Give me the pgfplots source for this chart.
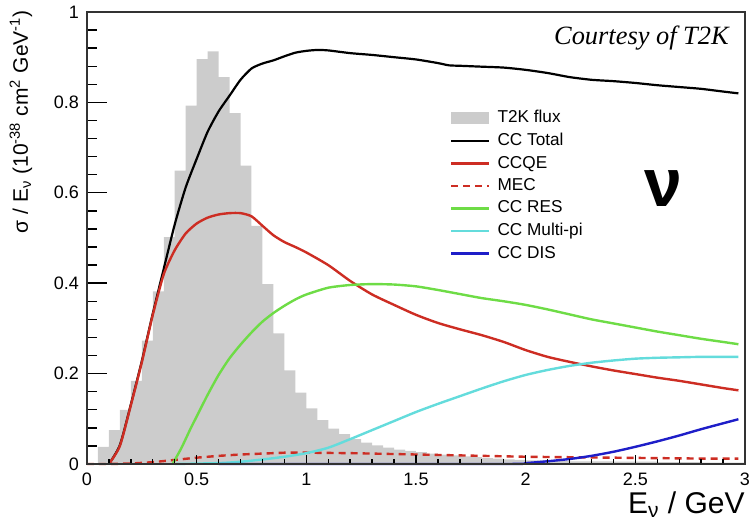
\documentclass[border=0pt]{standalone}
\usepackage{fontspec}
\setmainfont{Liberation Sans}
\newfontfamily\serifit{Liberation Serif}
\usepackage{pgfplots}
\pgfplotsset{compat=1.18}

\definecolor{histgray}{RGB}{204,204,204}
\definecolor{ccqe}{RGB}{205,45,35}
\definecolor{ccres}{RGB}{110,220,70}
\definecolor{ccmpi}{RGB}{100,220,220}
\definecolor{ccdis}{RGB}{30,30,200}

\pgfplotsset{
  common/.style={
    scale only axis, width=329pt, height=226pt,
    xmin=0, xmax=3, ymin=0, ymax=1,
    axis line style={black!80, line width=0.8pt},
    every tick/.style={black, line width=0.7pt},
    tick align=inside,
    xtick pos=left, ytick pos=left,
    /pgf/number format/assume math mode=true,
    ticklabel style={font=\fontsize{9}{10}\selectfont},
  },
  lineleg/.style={legend image code/.code={\draw[##1] (0pt,0pt) -- (19pt,0pt);}},
}

\begin{document}
\begin{tikzpicture}
\path[use as bounding box] (-43.5pt,-27.5pt) rectangle (332pt,232pt);

% main axis: data, x ticks, legend
\begin{axis}[common,
    axis on top,
    clip=false,
    xtick={0,0.5,1,1.5,2,2.5,3},
    minor x tick num=4,
    ytick=\empty,
    major tick length=4.5pt, minor tick length=2.5pt,
    xticklabel style={inner sep=1pt, yshift=-3.5pt},
    xlabel={E\textsubscript{ν} / GeV},
    xlabel style={at={(axis description cs:1,-0.109)}, anchor=base east,
      inner sep=0pt, text height=0.72em, text depth=0.2em,
      font=\fontsize{15}{17}\selectfont},
    legend style={at={(axis description cs:0.551,0.786)}, anchor=north west,
      draw=none, fill=none, inner sep=0pt,
      font=\fontsize{8.6}{10}\selectfont, row sep=2.5pt, column sep=3pt,
      nodes={inner sep=0.6pt, anchor=west}},
    legend cell align=left,
  ]

  \addplot[ybar interval, fill=histgray, draw=none,
    legend image code/.code={\fill[histgray] (0pt,-3pt) rectangle (19pt,3pt);}]
  coordinates {
    (0.05,0.038) (0.10,0.075) (0.15,0.120) (0.20,0.184) (0.25,0.273)
    (0.30,0.382) (0.35,0.502) (0.40,0.649) (0.45,0.793) (0.50,0.896)
    (0.55,0.913) (0.60,0.856) (0.65,0.776) (0.70,0.660) (0.75,0.527)
    (0.80,0.398) (0.85,0.289) (0.90,0.207) (0.95,0.158) (1.00,0.123)
    (1.05,0.097) (1.10,0.078) (1.15,0.066) (1.20,0.055) (1.25,0.047)
    (1.30,0.041) (1.35,0.036) (1.40,0.032) (1.45,0.029) (1.50,0.026)
    (1.55,0.023) (1.60,0.021) (1.65,0.019) (1.70,0.017) (1.75,0.015)
    (1.80,0.013) (1.85,0.012) (1.90,0.010) (1.95,0.009) (2.00,0.008)
    (2.10,0.007) (2.20,0.006) (2.40,0.005) (2.60,0.004) (2.80,0.003)
    (3.00,0.003)
  };
  \addlegendentry{T2K flux}

  \addplot[black, line width=1.1pt, smooth, tension=0.4, lineleg] coordinates {
    (0.10,0.0) (0.15,0.042) (0.20,0.132) (0.25,0.228) (0.30,0.333)
    (0.35,0.432) (0.40,0.530) (0.45,0.612) (0.50,0.675) (0.55,0.735)
    (0.60,0.780) (0.65,0.815) (0.70,0.850) (0.75,0.875) (0.80,0.886)
    (0.85,0.893) (0.90,0.902) (0.95,0.910) (1.00,0.914) (1.05,0.916)
    (1.10,0.915) (1.20,0.909) (1.30,0.905) (1.40,0.900) (1.50,0.895)
    (1.60,0.887) (1.65,0.882) (1.70,0.881) (1.80,0.879) (1.90,0.877)
    (2.00,0.872) (2.10,0.865) (2.20,0.856) (2.30,0.850) (2.40,0.847)
    (2.50,0.843) (2.60,0.838) (2.70,0.834) (2.80,0.830) (2.90,0.824)
    (2.97,0.820)
  };
  \addlegendentry{CC Total}

  \addplot[ccqe, line width=1.2pt, smooth, tension=0.4, lineleg] coordinates {
    (0.10,0.0) (0.15,0.040) (0.20,0.130) (0.25,0.225) (0.30,0.330)
    (0.35,0.420) (0.40,0.473) (0.45,0.510) (0.50,0.532) (0.55,0.545)
    (0.60,0.552) (0.65,0.555) (0.70,0.555) (0.75,0.548) (0.80,0.527)
    (0.85,0.506) (0.90,0.491) (0.95,0.480) (1.00,0.468) (1.10,0.440)
    (1.20,0.405) (1.30,0.375) (1.40,0.352) (1.50,0.330) (1.60,0.312)
    (1.70,0.298) (1.80,0.285) (1.90,0.270) (2.00,0.252) (2.10,0.237)
    (2.20,0.226) (2.30,0.216) (2.40,0.207) (2.50,0.199) (2.60,0.191)
    (2.70,0.184) (2.80,0.176) (2.90,0.168) (2.97,0.163)
  };
  \addlegendentry{CCQE}

  \addplot[ccqe, line width=1.2pt, dash pattern=on 3.5pt off 2.5pt, lineleg] coordinates {
    (0.00,0.0) (0.10,0.0) (0.20,0.001) (0.30,0.004) (0.40,0.009)
    (0.50,0.014) (0.60,0.018) (0.70,0.021) (0.80,0.023) (0.90,0.025)
    (1.00,0.025) (1.20,0.024) (1.40,0.022) (1.60,0.020) (1.80,0.018)
    (2.00,0.016) (2.20,0.015) (2.40,0.014) (2.60,0.013) (2.80,0.012)
    (2.97,0.012)
  };
  \addlegendentry{MEC}

  \addplot[ccres, line width=1.2pt, smooth, tension=0.4, lineleg] coordinates {
    (0.39,0.0) (0.43,0.035) (0.47,0.076) (0.50,0.105) (0.55,0.153)
    (0.60,0.197) (0.65,0.234) (0.70,0.264) (0.75,0.291) (0.80,0.315)
    (0.85,0.334) (0.90,0.350) (0.95,0.364) (1.00,0.375) (1.10,0.390)
    (1.20,0.396) (1.30,0.398) (1.40,0.397) (1.50,0.393) (1.60,0.385)
    (1.70,0.376) (1.80,0.367) (1.90,0.360) (2.00,0.352) (2.10,0.342)
    (2.20,0.331) (2.30,0.320) (2.40,0.311) (2.50,0.302) (2.60,0.293)
    (2.70,0.285) (2.80,0.277) (2.90,0.270) (2.97,0.265)
  };
  \addlegendentry{CC RES}

  \addplot[ccmpi, line width=1.2pt, smooth, tension=0.4, lineleg] coordinates {
    (0.40,0.0) (0.60,0.002) (0.70,0.005) (0.80,0.010) (0.90,0.016)
    (1.00,0.024) (1.10,0.036) (1.20,0.055) (1.30,0.075) (1.40,0.095)
    (1.50,0.115) (1.60,0.133) (1.70,0.150) (1.80,0.167) (1.90,0.183)
    (2.00,0.197) (2.10,0.208) (2.20,0.217) (2.30,0.224) (2.40,0.229)
    (2.50,0.233) (2.60,0.235) (2.70,0.236) (2.80,0.237) (2.97,0.237)
  };
  \addlegendentry{CC Multi-pi}

  \addplot[ccdis, line width=1.2pt, smooth, tension=0.4, lineleg] coordinates {
    (0.60,0.0) (1.90,0.0) (2.00,0.002) (2.10,0.006) (2.20,0.011)
    (2.30,0.018) (2.40,0.027) (2.50,0.038) (2.60,0.050) (2.70,0.063)
    (2.80,0.077) (2.90,0.090) (2.97,0.099)
  };
  \addlegendentry{CC DIS}

  \node[font=\fontsize{34}{36}\selectfont\bfseries] at (axis cs:2.63,0.61) {ν};
  \node[font=\fontsize{13.2}{15}\selectfont\serifit\itshape, anchor=base east]
    at (axis description cs:0.986,0.927) {Courtesy of T2K};
\end{axis}

% overlay axis for the longer y ticks
\begin{axis}[common,
    xtick=\empty,
    ytick={0,0.2,0.4,0.6,0.8,1},
    minor y tick num=4,
    major tick length=10pt, minor tick length=5pt,
    yticklabel style={xshift=-0.5pt},
    ylabel={σ / E\textsubscript{ν} (10\textsuperscript{-38} cm\textsuperscript{2} GeV\textsuperscript{-1})},
    ylabel style={at={(axis description cs:-0.09,1.02)}, anchor=base east,
      font=\fontsize{10.5}{12}\selectfont},
  ]
\end{axis}
\end{tikzpicture}
\end{document}
